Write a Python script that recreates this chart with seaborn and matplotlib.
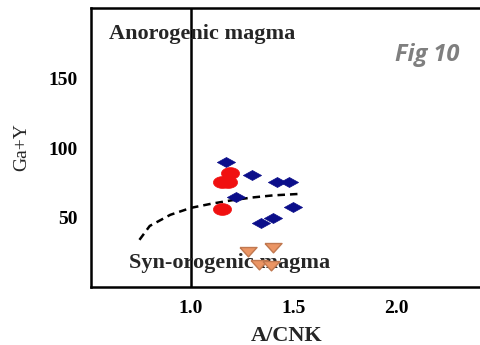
import numpy as np
import pandas as pd
import seaborn as sns
import matplotlib.pyplot as plt

# sample groups
dia_x = [1.17, 1.30, 1.42, 1.48, 1.22, 1.50, 1.34, 1.40]
dia_y = [90, 80.5, 76, 76, 64.5, 57.5, 46, 49.5]
circ_x = [1.19, 1.15, 1.18, 1.15]
circ_y = [82, 75.5, 75.5, 56]
tri_x = [1.28, 1.40, 1.33, 1.39]
tri_y = [26.5, 29.5, 17.5, 16.5]

# dashed boundary curve
curve_x = [0.75, 0.80, 0.90, 1.00, 1.10, 1.20, 1.30, 1.40, 1.52]
curve_y = [34, 44, 52, 57, 60, 62.5, 64.5, 66, 67]

xticks = [1.0, 1.5, 2.0]
yticks = [50, 100, 150]

sns.set_theme(style="white")
plt.rcParams['font.family'] = ['Liberation Serif', 'DejaVu Serif']

fig = plt.figure(figsize=(4.8, 3.45), dpi=100)
ax = fig.add_axes([0.19, 0.168, 0.815, 0.809])

flat_diamond = [(-1, 0), (0, 0.55), (1, 0), (0, -0.55), (-1, 0)]
t = np.linspace(0, 2 * np.pi, 40)
ellipse = list(zip(np.cos(t), 0.65 * np.sin(t)))
flat_tri = [(-1, 0.35), (1, 0.35), (0, -0.75), (-1, 0.35)]

curve = pd.DataFrame({'x': curve_x, 'y': curve_y})
sns.lineplot(data=curve, x='x', y='y', ax=ax, color='black', lw=1.8,
             linestyle=(0, (3, 2)))

ax.axvline(1.0, color='black', lw=1.8)

sns.scatterplot(x=dia_x, y=dia_y, ax=ax, marker=flat_diamond, s=170,
                color='#0b0e8a', edgecolor='#0b0e8a', linewidth=0.5, zorder=3)
sns.scatterplot(x=circ_x, y=circ_y, ax=ax, marker=ellipse, s=170,
                color='#f01010', edgecolor='#f01010', linewidth=0.5, zorder=3)
sns.scatterplot(x=tri_x, y=tri_y, ax=ax, marker=flat_tri, s=150,
                color='#eb9564', edgecolor='#c07850', linewidth=1.0, zorder=5)

ax.set_xlim(0.515, 2.42)
ax.set_ylim(0, 201)
ax.set_xticks(xticks)
ax.set_yticks(yticks)
ax.set_xticklabels([f"{v:.1f}" for v in xticks], fontweight='bold', fontsize=14)
ax.set_yticklabels([str(v) for v in yticks], fontweight='bold', fontsize=14)
ax.tick_params(direction='in', length=5, width=1.2, colors='black')
ax.tick_params(axis='y', pad=10)
ax.tick_params(axis='x', pad=9)

for side in ['left', 'bottom', 'top']:
    ax.spines[side].set_color('black')
    ax.spines[side].set_linewidth(1.8)
ax.spines['right'].set_visible(False)

ax.set_xlabel('A/CNK', fontweight='bold', fontsize=16, labelpad=7)
ax.set_ylabel('Ga+Y', fontsize=14, labelpad=13)

ax.text(0.60, 182, 'Anorogenic magma', fontsize=16, fontweight='bold',
        ha='left', va='center')
ax.text(0.70, 17, 'Syn-orogenic magma', fontsize=16, fontweight='bold',
        ha='left', va='center', zorder=4)
ax.text(2.31, 167, 'Fig 10', fontsize=17, fontweight='bold', style='italic',
        color='#7f7f7f', family=['Open Sans', 'DejaVu Sans'], ha='right', va='center')

fig.savefig('out.png', dpi=100)
